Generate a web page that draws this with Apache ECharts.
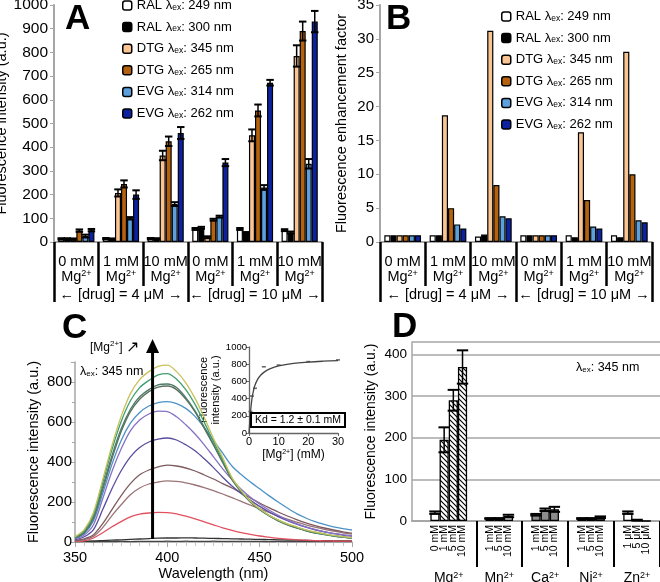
<!DOCTYPE html>
<html><head><meta charset="utf-8">
<script src="https://cdn.jsdelivr.net/npm/echarts@6/dist/echarts.min.js"></script>
<style>html,body{margin:0;padding:0;background:#fff}#c{width:660px;height:582px}</style>
</head><body><div id="c"></div>
<script>
// ---------------- DATA ----------------
// Panels A & B
const aCategories = ['0 mM','1 mM','10 mM','0 mM','1 mM','10 mM'];
const drugGroups = ['[drug] = 4 μM','[drug] = 10 μM'];
const seriesNames = ['RAL λex: 249 nm','RAL λex: 300 nm','DTG λex: 345 nm','DTG λex: 265 nm','EVG λex: 314 nm','EVG λex: 262 nm'];
const aRAL249 = [13, 14, 14, 55, 55, 50];
const aRAL300 = [13, 12, 13, 60, 38, 40];
const aDTG345 = [12, 207, 365, 20, 450, 785];
const aDTG265 = [48, 245, 425, 94, 555, 890];
const aEVG314 = [25, 100, 160, 107, 230, 330];
const aEVG262 = [50, 200, 460, 335, 672, 930];
const aRAL249Err = [3, 3, 3, 4, 4, 4];
const aRAL300Err = [3, 3, 3, 4, 4, 4];
const aDTG345Err = [3, 15, 20, 4, 25, 45];
const aDTG265Err = [5, 15, 20, 4, 25, 40];
const aEVG314Err = [6, 5, 8, 4, 10, 20];
const aEVG262Err = [5, 18, 25, 15, 12, 45];
const bRAL249 = [1, 1.0, 0.8, 1, 1.0, 1.0];
const bRAL300 = [1, 1.0, 1.1, 1, 0.7, 0.7];
const bDTG345 = [1, 18.7, 31.2, 1, 16.2, 28.1];
const bDTG265 = [1, 5.0, 8.4, 1, 6.2, 10.0];
const bEVG314 = [1, 2.6, 3.8, 1, 2.3, 3.2];
const bEVG262 = [1, 2.0, 3.5, 1, 2.0, 2.9];
const aTicks = [0,100,200,300,400,500,600,700,800,900,1000];
const bTicks = [0,5,10,15,20,25,30,35];

// Panel C spectra (wavelength nm -> intensity)
const wavelengths = [350,355,360,365,370,375,380,385,390,395,400,405,410,415,420,425,430,435,440,445,450,455,460,465,470,475,480,485,490,495,500];
const specYellow = [27,62,148,312,482,628,742,812,852,878,884,852,796,718,622,518,421,322,257,204,166,134,111,91,76,61,50,41,33,27,22];
const specGreen  = [24,56,136,296,462,602,706,772,808,836,842,814,762,688,598,503,410,318,254,203,164,133,109,89,73,59,48,40,32,26,21];
const specDkGreen= [22,50,126,276,432,566,664,726,762,786,790,772,722,656,574,489,401,314,252,201,162,132,107,87,71,57,46,38,31,25,20];
const specSlate  = [20,46,118,262,416,552,652,714,752,774,780,762,714,650,568,484,396,312,250,199,161,131,106,86,70,56,45,37,30,24,19];
const specBlue   = [20,43,106,242,388,508,594,648,680,697,702,692,668,628,572,508,444,380,337,300,266,232,200,170,142,120,102,88,76,67,60];
const specPurple = [15,35,86,216,352,466,556,610,640,654,652,626,586,540,486,426,366,312,264,224,190,160,134,111,92,76,63,52,43,36,30];
const specDkPurple=[11,26,62,162,266,356,426,472,500,514,520,510,486,456,416,372,324,280,242,208,178,151,127,107,89,74,61,51,42,35,29];
const specBrown  = [8,16,36,92,162,232,292,336,360,376,384,380,370,355,335,315,292,270,245,220,195,172,150,130,112,96,82,70,60,51,44];
const specRosy   = [6,12,28,72,132,186,236,270,290,300,306,303,296,285,272,257,240,222,203,184,166,148,130,114,99,86,74,63,54,46,39];
const specRed    = [3,6,20,46,76,102,126,139,145,148,147,141,129,116,101,86,71,58,47,38,30,24,18,14,11,9,7,6,5,4,4];
const specBlack  = [3,4,5,7,9,11,13,15,17,19,20,20,21,20,19,18,17,16,15,14,13,12,11,10,9,8,7,7,6,5,5];
const specBlank  = [1,2,1,2,2,3,2,3,3,3,4,3,4,3,3,4,3,3,3,3,3,2,3,2,2,2,2,2,2,2,2];
// inset titration
const insetMg  = [0,0.25,0.5,1,1.5,2,3,4,5,7,10,15,20,25,30];
const insetFit = [0,130,240,400,490,555,630,675,705,745,780,810,825,835,842];
const insetPtMg = [0.5,1,2,5,10,20,30];
const insetPtF  = [250,430,520,770,790,830,850];

// Panel D
const dSlots = ['','','0 mM','1 mM','5 mM','10 mM','','','1 mM','5 mM','10 mM','','','1 mM','5 mM','10 mM','','','1 mM','5 mM','10 mM','','','1 μM','5 μM','10 μM',''];
const dIons = ['Mg','Mn','Ca','Ni','Zn'];
const mgValues = [20,195,290,370]; const mgErr = [3,30,25,40];
const mnValues = [6,6,12];        const mnErr = [1,1,3];
const caValues = [15,27,28];      const caErr = [2,3,6];
const niValues = [6,6,9];         const niErr = [1,1,2];
const znValues = [20,2,0];        const znErr = [3,1,0];

// ---------------- STYLE ----------------
const FONT = '"Liberation Sans", Arial, Helvetica, sans-serif';
const GRAY = '#a6a6a6';
const seriesColors = ['#FFFFFF','#000000','#FAC592','#B5620E','#5BA0DC','#0C22A0'];
const specColors = ['#444444','#333333','#E0505E','#9A7476','#7E5A5E','#5A4C9E','#8672C4','#4C92C6','#5A6E5E','#4E7A66','#3E9E6E','#C9C15A'];
const specList = [specBlank,specBlack,specRed,specRosy,specBrown,specDkPurple,specPurple,specBlue,specSlate,specDkGreen,specGreen,specYellow];
const plain = v => String(v);

const hatch = document.createElement('canvas');
hatch.width = 5; hatch.height = 5;
(function(){ const g = hatch.getContext('2d'); g.fillStyle='#fff'; g.fillRect(0,0,5,5);
  g.strokeStyle='#000'; g.lineWidth=1.1; g.beginPath();
  g.moveTo(-1,-1); g.lineTo(6,6); g.moveTo(-1,4); g.lineTo(1,6); g.moveTo(4,-1); g.lineTo(6,1); g.stroke(); })();
const dStyles = {
  Mg: ['#ffffff', {image:hatch, repeat:'repeat'}, {image:hatch, repeat:'repeat'}, {image:hatch, repeat:'repeat'}],
  Mn: ['#4d4d4d','#4d4d4d','#c8c8c8'],
  Ca: ['#8c8c8c','#8c8c8c','#8c8c8c'],
  Ni: ['#3a3a3a','#3a3a3a','#3a3a3a'],
  Zn: ['#ffffff','#ffffff','#ffffff']
};
const dStart = {Mg:2, Mn:8, Ca:13, Ni:18, Zn:23};
const dDividerAt = [7,12,17,22];
const dVals = {Mg:mgValues, Mn:mnValues, Ca:caValues, Ni:niValues, Zn:znValues};
const dErrs = {Mg:mgErr, Mn:mnErr, Ca:caErr, Ni:niErr, Zn:znErr};

const supRich = (fs, extra) => Object.assign({
  n:{fontSize:fs, fontFamily:FONT, color:'#000'},
  s:{fontSize:Math.round(fs*0.62), fontFamily:FONT, color:'#000', verticalAlign:'top'}
}, extra||{});
const catRich = {
  n:{fontSize:14.5, lineHeight:15, fontFamily:FONT, color:'#000'},
  s:{fontSize:9, fontFamily:FONT, color:'#000', verticalAlign:'top'}
};
const legendRich = {
  n:{fontSize:13, fontFamily:FONT, color:'#000'},
  s:{fontSize:8.5, fontFamily:FONT, color:'#000', verticalAlign:'bottom'}
};
function legendFmt(name){ const p = name.split('λex'); return '{n|' + p[0] + 'λ}{s|ex}{n|' + p[1] + '}'; }
function catLabel(v){ return '{n|' + v + '}\n{n|Mg}{s|2+}'; }

function errRender(nSeries, gap){
  return function(params, api){
    const cat = api.value(0), s = api.value(1), v = api.value(2), e = api.value(3);
    if (!e) return null;
    const band = api.size([1,0])[0];
    const bw = band*(1-gap)/nSeries;
    const c = api.coord([cat, v]);
    const x = c[0] + (s-(nSeries-1)/2)*bw;
    const yt = api.coord([cat, v+e])[1], yb = api.coord([cat, Math.max(v-e,0)])[1];
    const hw = Math.max(bw*0.62, 3.5);
    return {type:'group', children:[
      {type:'line', shape:{x1:x,y1:yt,x2:x,y2:yb}, style:{stroke:'#000', lineWidth:1.5}},
      {type:'line', shape:{x1:x-hw,y1:yt,x2:x+hw,y2:yt}, style:{stroke:'#000', lineWidth:2}},
      {type:'line', shape:{x1:x-hw,y1:yb,x2:x+hw,y2:yb}, style:{stroke:'#000', lineWidth:2}}
    ]};
  };
}

const aVals = [aRAL249,aRAL300,aDTG345,aDTG265,aEVG314,aEVG262];
const aErrs = [aRAL249Err,aRAL300Err,aDTG345Err,aDTG265Err,aEVG314Err,aEVG262Err];
const bVals = [bRAL249,bRAL300,bDTG345,bDTG265,bEVG314,bEVG262];
const GAP = 0.19;

const series = [];
aVals.forEach((vals,i)=>series.push({type:'bar', name:seriesNames[i], xAxisIndex:0, yAxisIndex:0, data:vals,
  barGap:'0%', barCategoryGap:(GAP*100)+'%', itemStyle:{color:seriesColors[i], borderColor:'#000', borderWidth:1.2}, emphasis:{disabled:true}, silent:true}));
const aErrData = [];
aVals.forEach((vals,s)=>vals.forEach((v,c)=>aErrData.push([c, s, v, aErrs[s][c]])));
series.push({type:'custom', xAxisIndex:0, yAxisIndex:0, data:aErrData, encode:{x:0, y:2}, renderItem:errRender(6, GAP), clip:false, z:5, silent:true});
bVals.forEach((vals,i)=>series.push({type:'bar', name:seriesNames[i], xAxisIndex:2, yAxisIndex:2, data:vals,
  barGap:'0%', barCategoryGap:(GAP*100)+'%', itemStyle:{color:seriesColors[i], borderColor:'#000', borderWidth:1.2}, emphasis:{disabled:true}, silent:true}));
specList.forEach((sp,i)=>series.push({type:'line', xAxisIndex:4, yAxisIndex:4, data:wavelengths.map((w,k)=>[w, sp[k]]),
  showSymbol:false, smooth:0.3, lineStyle:{width:1.3, color:specColors[i]}, itemStyle:{color:specColors[i]}, silent:true}));
series.push({type:'line', xAxisIndex:5, yAxisIndex:5, data:insetMg.map((m,k)=>[m, insetFit[k]]), showSymbol:false, smooth:0.4,
  lineStyle:{width:1.3, color:'#444'}, silent:true});
series.push({type:'scatter', xAxisIndex:5, yAxisIndex:5, data:insetPtMg.map((m,k)=>[m, insetPtF[k]]), symbol:'rect', symbolSize:[4,1.6],
  itemStyle:{color:'#444'}, silent:true});
const dBarData = dSlots.map(()=>null);
const dErrData = [];
dIons.forEach(ion=>dVals[ion].forEach((v,k)=>{
  const idx = dStart[ion]+k;
  dBarData[idx] = {value:v, itemStyle:{color:dStyles[ion][k]}};
  dErrData.push([idx, 0, v, dErrs[ion][k]]);
}));
series.push({type:'bar', xAxisIndex:6, yAxisIndex:6, data:dBarData, barCategoryGap:'0%', itemStyle:{borderColor:'#000', borderWidth:1.3}, emphasis:{disabled:true}, silent:true});
series.push({type:'custom', xAxisIndex:6, yAxisIndex:6, data:dErrData, encode:{x:0, y:2}, renderItem:errRender(1, 0), clip:false, z:5, silent:true});

function barY(gi, ticks, fs, name, nameGap){
  return {gridIndex:gi, type:'value', min:ticks[0], max:ticks[ticks.length-1], interval:ticks[1]-ticks[0],
    axisLine:{show:true, lineStyle:{color:GRAY, width:2}}, axisTick:{show:true, length:4, lineStyle:{color:GRAY}},
    splitLine:{show:false}, axisLabel:{fontSize:fs, color:'#000', margin:6, fontFamily:FONT, formatter:plain},
    name:name, nameLocation:'middle', nameGap:nameGap, nameTextStyle:{fontSize:14.5, color:'#000', fontFamily:FONT}};
}
function catX(gi){
  return {gridIndex:gi, type:'category', data:aCategories, axisLine:{show:true, lineStyle:{color:GRAY, width:2}},
    axisTick:{show:true, interval:0, length:44, lineStyle:{color:'#000', width:2.5}},
    axisLabel:{interval:0, margin:12, formatter:catLabel, rich:catRich}};
}
function drugX(gi){
  return {gridIndex:gi, type:'category', data:drugGroups, position:'bottom', axisLine:{show:false},
    axisTick:{show:true, interval:0, length:60, lineStyle:{color:'#000', width:2.5}},
    axisLabel:{interval:0, margin:45, fontSize:14.5, color:'#000', fontFamily:FONT, formatter:v=>'\u2190 ' + v + ' \u2192'}};
}
const hiddenY = gi => ({gridIndex:gi, type:'value', show:false, min:0, max:1});

const option = {
  animation:false,
  textStyle:{fontFamily:FONT, color:'#000'},
  grid:[
    {left:54, top:5, width:268, height:237, outerBoundsMode:'none'},
    {left:54, top:5, width:268, height:237, outerBoundsMode:'none'},
    {left:380, top:5, width:272, height:237, outerBoundsMode:'none'},
    {left:380, top:5, width:272, height:237, outerBoundsMode:'none'},
    {left:75, top:362, width:277, height:180, outerBoundsMode:'none'},
    {left:249, top:347, width:89, height:86, outerBoundsMode:'none'},
    {left:412, top:342, width:248, height:179, outerBoundsMode:'none'}
  ],
  legend:[
    {data:seriesNames, orient:'vertical', left:117, top:-6, itemWidth:9, itemHeight:9, itemGap:8.6, selectedMode:false,
     itemStyle:{borderColor:'#000', borderWidth:1.5}, textStyle:{rich:legendRich}, formatter:legendFmt},
    {data:seriesNames, orient:'vertical', left:496, top:5, itemWidth:9, itemHeight:9, itemGap:8.6, selectedMode:false,
     itemStyle:{borderColor:'#000', borderWidth:1.5}, textStyle:{rich:legendRich}, formatter:legendFmt}
  ],
  xAxis:[
    catX(0), drugX(1), catX(2), drugX(3),
    {gridIndex:4, type:'value', min:350, max:500, interval:50, axisLine:{show:true, onZero:false, lineStyle:{color:GRAY, width:1.5}},
     axisTick:{show:true, length:5, lineStyle:{color:GRAY}}, minorTick:{show:true, splitNumber:10, length:4, lineStyle:{color:'#c4c4c4'}},
     splitLine:{show:false}, axisLabel:{fontSize:14.5, margin:8, color:'#000', formatter:plain},
     name:'Wavelength (nm)', nameLocation:'middle', nameGap:24, nameTextStyle:{fontSize:14.5, color:'#000'}},
    {gridIndex:5, type:'value', min:0, max:30, interval:10, axisLine:{show:true, onZero:false, lineStyle:{color:'#666', width:1.3}},
     axisTick:{show:true, length:3, lineStyle:{color:'#666'}}, splitLine:{show:false}, axisLabel:{fontSize:11, margin:3, color:'#000', formatter:plain},
     name:'{n|[Mg}{s|2+}{n|] (mM)}', nameLocation:'middle', nameGap:16, nameTextStyle:{rich:supRich(12)}},
    {gridIndex:6, type:'category', data:dSlots, axisLine:{show:true, lineStyle:{color:GRAY, width:2}},
     axisTick:{show:true, interval:(i)=>dDividerAt.indexOf(i)>=0, length:46, lineStyle:{color:'#000', width:2}},
     axisLabel:{interval:0, rotate:90, fontSize:10.5, margin:4, color:'#000'}}
  ],
  yAxis:[
    barY(0, aTicks, 15.5, 'Fluorescence intensity (a.u.)', 37), hiddenY(1),
    barY(2, bTicks, 15, 'Fluorescence enhancement factor', 31), hiddenY(3),
    {gridIndex:4, type:'value', min:0, max:900, interval:200, axisLine:{show:true, lineStyle:{color:GRAY, width:1.5}},
     axisTick:{show:true, length:4, lineStyle:{color:GRAY}}, minorTick:{show:true, splitNumber:2, length:3, lineStyle:{color:GRAY}},
     splitLine:{show:false}, axisLabel:{fontSize:15, margin:3, color:'#000', showMaxLabel:false, formatter:plain},
     name:'Fluorescence intensity (a.u.)', nameLocation:'middle', nameGap:34, nameTextStyle:{fontSize:14.5, color:'#000'}},
    {gridIndex:5, type:'value', min:0, max:1000, interval:200, axisLine:{show:true, lineStyle:{color:'#666', width:1.3}},
     axisTick:{show:true, length:3, lineStyle:{color:'#666'}}, splitLine:{show:false}, axisLabel:{fontSize:9.5, margin:2, color:'#000', formatter:plain},
     name:'Fluorescence\nintensity (a.u.)', nameLocation:'middle', nameGap:24, nameTextStyle:{fontSize:11, lineHeight:12, color:'#000'}},
    {gridIndex:6, type:'value', min:0, max:430, interval:100, axisLine:{show:true, lineStyle:{color:GRAY, width:1.5}},
     axisTick:{show:false}, splitLine:{show:true, lineStyle:{color:GRAY, width:1.5}},
     axisLabel:{fontSize:13.5, margin:5, color:'#000', showMaxLabel:false, formatter:plain},
     name:'Fluorescence intensity (a.u.)', nameLocation:'middle', nameGap:34, nameTextStyle:{fontSize:14, color:'#000'}}
  ],
  series:series
};

const chart = echarts.init(document.getElementById('c'), null, {renderer:'canvas', width:660, height:582});
chart.setOption(option);

// annotations
const gFill = '#000';
const rText = (fs) => ({n:{fontSize:fs, fontFamily:FONT, fill:gFill}, s:{fontSize:Math.round(fs*0.65), fontFamily:FONT, fill:gFill, verticalAlign:'top'},
  b:{fontSize:Math.round(fs*0.65), fontFamily:FONT, fill:gFill, verticalAlign:'bottom'}, a:{fontSize:fs+4, fontFamily:FONT, fill:gFill}});
const letter = (t, x, y) => ({type:'text', x:x, y:y, z:100, style:{text:t, fill:'#000', font:'bold 35px ' + FONT, textVerticalAlign:'top'}});
const arrowBase = chart.convertToPixel({gridIndex:4}, [392, 15]);
const graphic = [
  letter('A', 65, 2), letter('B', 386, 2), letter('C', 62, 311), letter('D', 392, 310),
  {type:'line', z:100, shape:{x1:arrowBase[0], y1:arrowBase[1], x2:arrowBase[0], y2:351}, style:{stroke:'#000', lineWidth:3}},
  {type:'polygon', z:100, shape:{points:[[arrowBase[0]-6.5,353],[arrowBase[0]+6.5,353],[arrowBase[0],339]]}, style:{fill:'#000'}},
  {type:'text', z:100, x:90, y:340, style:{text:'{n|[Mg}{s|2+}{n|]} {a|\u2197}', rich:rText(12), textVerticalAlign:'top'}},
  {type:'text', z:100, x:80, y:365, style:{text:'{n|λ}{b|ex}{n|: 345 nm}', rich:rText(12.5), textVerticalAlign:'top'}},
  {type:'text', z:100, x:576, y:361, style:{text:'{n|λ}{b|ex}{n|: 345 nm}', rich:rText(12.5), textVerticalAlign:'top'}},
  {type:'text', z:100, x:252, y:414, style:{text:'Kd = 1.2 ± 0.1 mM', fill:'#000', fontSize:10.5, fontFamily:FONT,
    backgroundColor:'#fff', borderColor:'#000', borderWidth:2, padding:[1,3,0,3], textVerticalAlign:'top'}}
];
dIons.forEach(ion=>{
  const n = dVals[ion].length;
  const p0 = chart.convertToPixel({gridIndex:6}, [dStart[ion], 0]);
  const p1 = chart.convertToPixel({gridIndex:6}, [dStart[ion]+n-1, 0]);
  graphic.push({type:'text', z:100, x:(p0[0]+p1[0])/2, y:578, style:{text:'{n|' + ion + '}{s|2+}', rich:rText(14),
    textAlign:'center', textVerticalAlign:'middle'}});
});
chart.setOption({graphic:graphic});
</script></body></html>
